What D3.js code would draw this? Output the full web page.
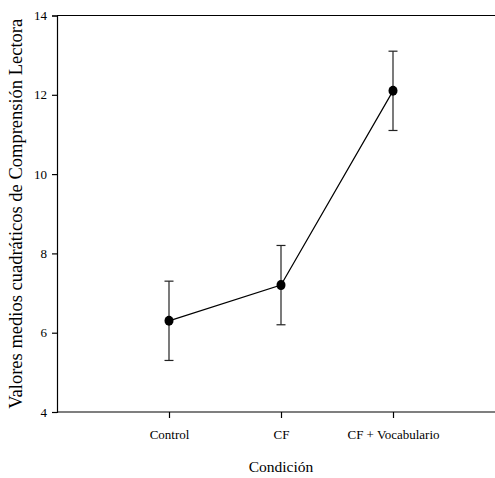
<!DOCTYPE html>
<html>
<head>
<meta charset="utf-8">
<script src="https://cdn.jsdelivr.net/npm/d3@7"></script>
<style>
  body { margin:0; background:#fff; }
  text { font-family: "Liberation Serif", "Times New Roman", serif; fill:#000; }
</style>
</head>
<body>
<div id="chart"></div>
<script>
// datos del grafico
var categorias = ['Control', 'CF', 'CF + Vocabulario'];
var medias = [6.3, 7.2, 12.1];
var errores = [1.0, 1.0, 1.0];
var yTicks = [4, 6, 8, 10, 12, 14];

var W = 495, H = 478;
var mLeft = 57, mTop = 15.5, mBottom = 412, mRight = 505;

var svg = d3.select('#chart').append('svg')
    .attr('width', W).attr('height', H);

var x = d3.scalePoint().domain(categorias).range([mLeft, mRight]).padding(1);
var y = d3.scaleLinear().domain([4, 14]).range([mBottom, mTop]);

// marco superior
svg.append('line')
    .attr('x1', mLeft).attr('x2', mRight)
    .attr('y1', mTop).attr('y2', mTop)
    .attr('stroke', '#000').attr('stroke-width', 1.2);

var yAxis = svg.append('g')
    .attr('transform', 'translate(' + mLeft + ',0)')
    .call(d3.axisLeft(y).tickValues(yTicks).tickSize(5).tickPadding(5).tickFormat(d3.format('d')));
var xAxis = svg.append('g')
    .attr('transform', 'translate(0,' + mBottom + ')')
    .call(d3.axisBottom(x).tickSize(6).tickPadding(12).tickSizeOuter(0));

[yAxis, xAxis].forEach(function(a){
    a.select('.domain').attr('stroke', '#000').attr('stroke-width', 1.2);
    a.selectAll('.tick line').attr('stroke', '#000').attr('stroke-width', 1.2);
    a.selectAll('.tick text').attr('font-family', '"Liberation Serif", serif').attr('font-size', '13px').attr('fill', '#000');
});
xAxis.select('.domain').attr('d', 'M' + mLeft + ',0H' + mRight);

// barras de error
var datos = categorias.map(function(c, i){ return {cat:c, m:medias[i], e:errores[i]}; });
var eb = svg.append('g').attr('stroke', '#222').attr('stroke-width', 1.2);
datos.forEach(function(d){
    var cx = x(d.cat);
    eb.append('line').attr('x1', cx).attr('x2', cx).attr('y1', y(d.m - d.e)).attr('y2', y(d.m + d.e));
    eb.append('line').attr('x1', cx - 4.5).attr('x2', cx + 4.5).attr('y1', y(d.m - d.e)).attr('y2', y(d.m - d.e));
    eb.append('line').attr('x1', cx - 4.5).attr('x2', cx + 4.5).attr('y1', y(d.m + d.e)).attr('y2', y(d.m + d.e));
});

// linea de medias
svg.append('path')
    .datum(datos)
    .attr('fill', 'none').attr('stroke', '#000').attr('stroke-width', 1.2)
    .attr('d', d3.line().x(function(d){ return x(d.cat); }).y(function(d){ return y(d.m); }));

svg.append('g').selectAll('ellipse').data(datos).enter().append('ellipse')
    .attr('cx', function(d){ return x(d.cat); })
    .attr('cy', function(d){ return y(d.m); })
    .attr('rx', 4.5).attr('ry', 5)
    .attr('fill', '#000');

// titulos
svg.append('text')
    .attr('x', x('CF')).attr('y', 472)
    .attr('text-anchor', 'middle')
    .attr('font-size', '15.5px')
    .text('Condición');

svg.append('text')
    .attr('transform', 'translate(22,' + ((mTop + mBottom) / 2) + ') rotate(-90)')
    .attr('text-anchor', 'middle')
    .attr('font-size', '18.5px')
    .text('Valores medios cuadráticos de Comprensión Lectora');
</script>
</body>
</html>
